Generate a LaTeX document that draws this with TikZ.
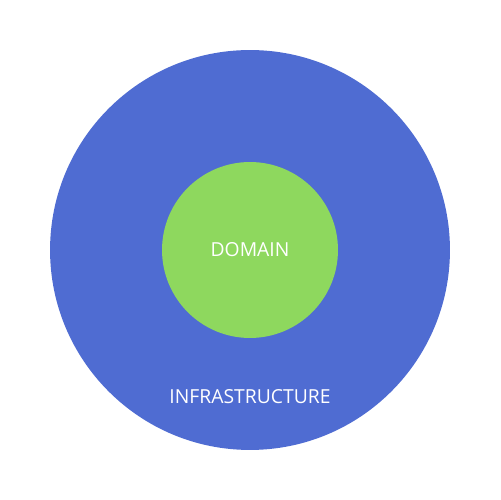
\documentclass[tikz,border=0pt]{standalone}
\usepackage{fontspec}
\setmainfont{Open Sans}
\definecolor{infrablue}{HTML}{4F6CD2}
\definecolor{domaingreen}{HTML}{8ED85E}
\begin{document}
\begin{tikzpicture}[x=0.02cm,y=0.02cm,
	layer/.style={circle, inner sep=0pt},
	label text/.style={text=white, font=\fontsize{11}{13}\selectfont}]
	\useasboundingbox (0,0) rectangle (500,500);
	\fill[white] (0,0) rectangle (500,500);
	% outer ring
	\node (infra) [layer, fill=infrablue, minimum size=8cm] at (250,250) {};
	% inner core
	\node (domain) [layer, fill=domaingreen, minimum size=3.52cm] at (250,250) {};
	\node (domainlabel) [label text] at (domain.center) {DOMAIN};
	\node (infralabel) [label text] at (250,103) {INFRASTRUCTURE};
\end{tikzpicture}
\end{document}
